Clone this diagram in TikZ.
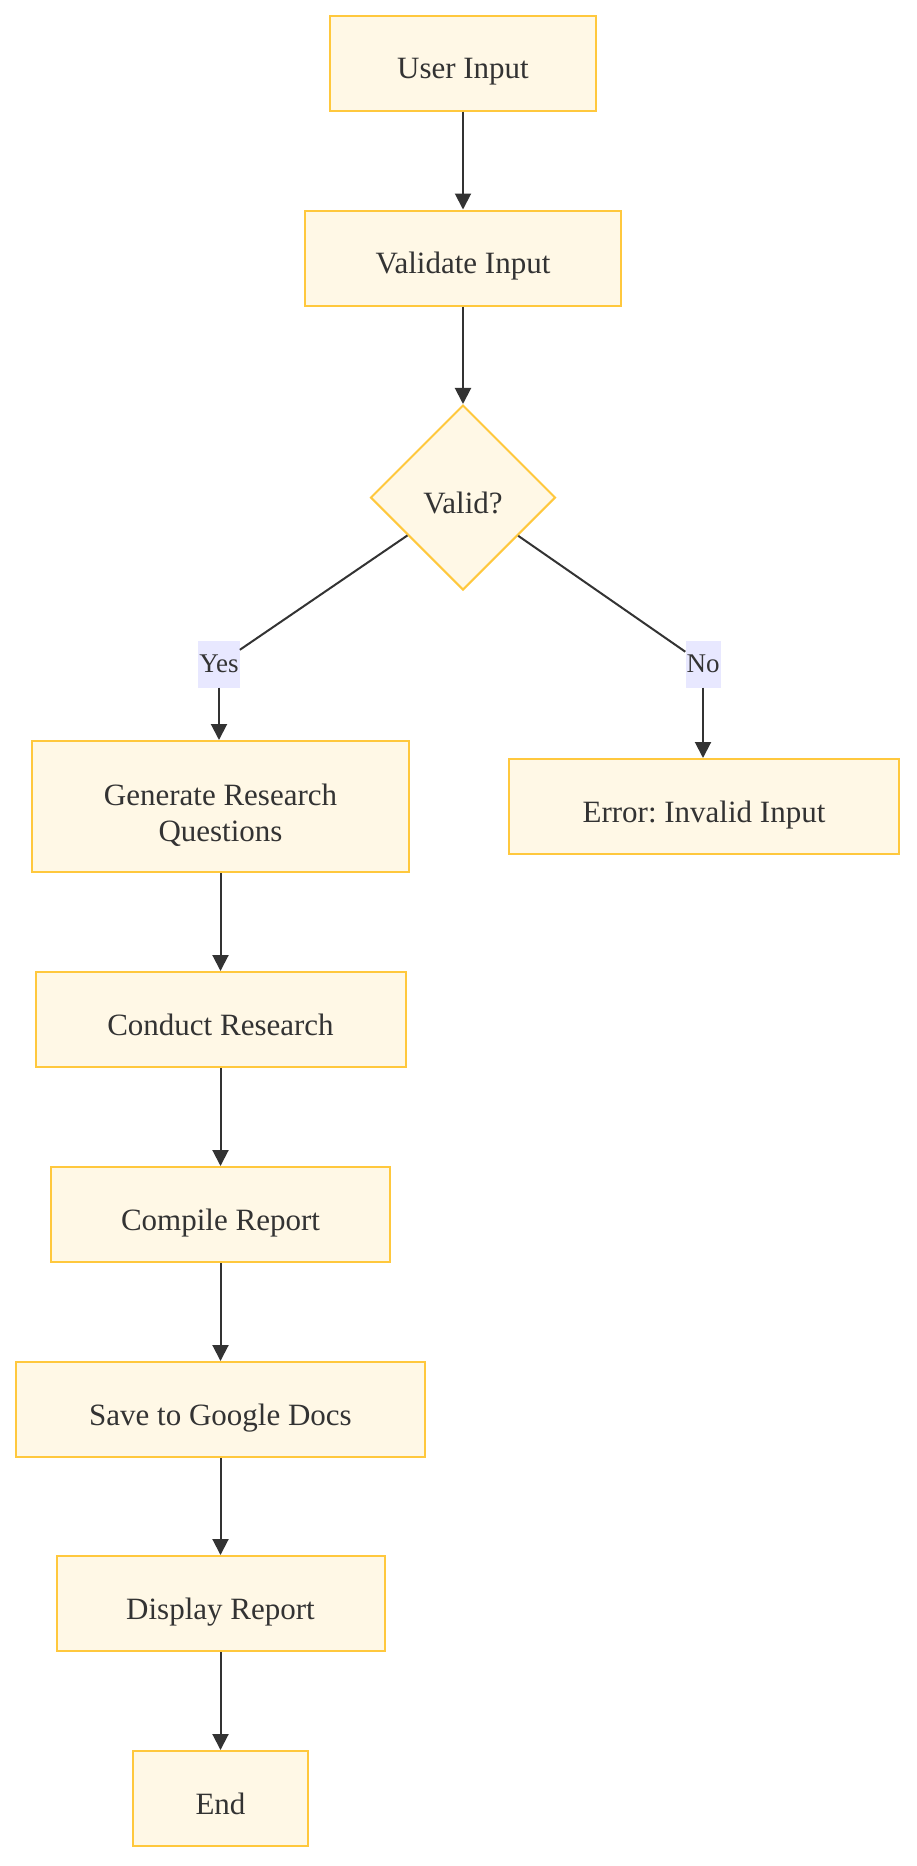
\documentclass[tikz,border=0pt]{standalone}
\usepackage{fontspec}
\setmainfont{Liberation Serif}
\frenchspacing
\usetikzlibrary{shapes.geometric,arrows.meta}
\definecolor{boxfill}{HTML}{FFF8E6}
\definecolor{boxline}{HTML}{FFC83D}
\definecolor{lblfill}{HTML}{E8E8FF}
\definecolor{ink}{HTML}{333333}
\tikzset{
  procbox/.style={draw=boxline, fill=boxfill, line width=2pt, inner sep=0pt,
    minimum height=95pt, text=ink, align=center, text height=31pt, text depth=0pt,
    font=\fontsize{31}{36}\selectfont},
  decbox/.style={draw=boxline, fill=boxfill, line width=2pt, shape=diamond,
    inner sep=0pt, minimum width=185pt, minimum height=185pt, text=ink,
    text height=31pt, text depth=0pt,
    font=\fontsize{31}{36}\selectfont},
  lbl/.style={fill=lblfill, text=ink, inner xsep=1pt, inner ysep=0pt,
    minimum height=47pt, font=\fontsize{27}{30}\selectfont},
  link/.style={draw=ink, line width=2pt},
  arr/.style={link, -{Triangle[length=16pt,width=16pt]}}
}
\begin{document}
\begin{tikzpicture}[x=1pt,y=-1pt]
\useasboundingbox (0,0) rectangle (916,1866);
\node[procbox, minimum width=377pt, minimum height=131pt, text height=69pt, text depth=0pt] (g) at (220.5,806.5) {Generate Research\\Questions};
\node[procbox, minimum width=266.5pt] (u) at (463,63) {User Input};
\node[procbox, minimum width=316.5pt] (v) at (463,258) {Validate Input};
\node[decbox] (d) at (463,497.5) {Valid?};
\node[procbox, minimum width=390pt] (e) at (704,806.5) {Error: Invalid Input};
\node[procbox, minimum width=370pt] (c) at (220.5,1019.5) {Conduct Research};
\node[procbox, minimum width=339pt] (r) at (220.5,1214.5) {Compile Report};
\node[procbox, minimum width=409pt] (s) at (220.5,1409.5) {Save to Google Docs};
\node[procbox, minimum width=328pt] (p) at (220.5,1603.5) {Display Report};
\node[procbox, minimum width=175pt] (n) at (220.5,1798.5) {End};

\node[lbl] (yes) at (219,664) {Yes};
\node[lbl] (no) at (703,664) {No};

\draw[arr] (u) -- (v);
\draw[arr] (v) -- (d);
\draw[link] (d) -- (yes);
\draw[arr] (yes) -- (yes |- g.north);
\draw[link] (d) -- (no);
\draw[arr] (no) -- (no |- e.north);
\draw[arr] (g) -- (c);
\draw[arr] (c) -- (r);
\draw[arr] (r) -- (s);
\draw[arr] (s) -- (p);
\draw[arr] (p) -- (n);
\end{tikzpicture}
\end{document}
